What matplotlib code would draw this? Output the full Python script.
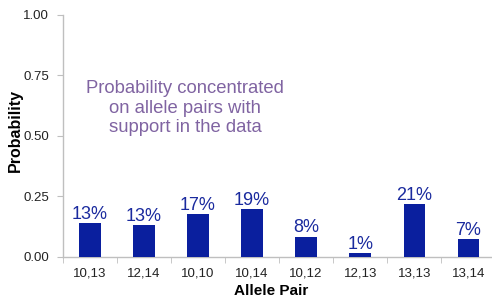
import matplotlib
matplotlib.use("Agg")
import matplotlib.pyplot as plt
import numpy as np

categories = ["10,13", "12,14", "10,10", "10,14", "10,12", "12,13", "13,13", "13,14"]
values = [0.138, 0.131, 0.175, 0.197, 0.083, 0.014, 0.217, 0.073]
labels = ["13%", "13%", "17%", "19%", "8%", "1%", "21%", "7%"]
yticks = [0.0, 0.25, 0.5, 0.75, 1.0]

plt.rcParams['font.family'] = ['Liberation Sans', 'DejaVu Sans']

fig = plt.figure(figsize=(4.92, 2.99), dpi=100)
ax = fig.add_axes([0.1274, 0.1415, 0.8797, 0.8085])

x = np.arange(len(categories))
ax.bar(x, values, width=0.4, color="#0A1F9E", zorder=3)
for xi, v, lab in zip(x, values, labels):
    ax.text(xi, v + 0.002, lab, ha="center", va="bottom", fontsize=13, color="#1A2A9E")

ax.set_xlim(-0.5, len(categories) - 0.5)
ax.set_ylim(0, 1.0)
ax.set_yticks(yticks)
ax.set_yticklabels([f"{t:.2f}" for t in yticks], fontsize=9.5, color="#222222")
ax.set_xticks(x)
ax.set_xticklabels(categories, fontsize=9.5, color="#222222")
ax.set_xticks(np.arange(-0.5, len(categories), 1.0), minor=True)
ax.tick_params(axis="x", which="major", length=0, pad=8)
ax.tick_params(axis="x", which="minor", length=4, color="#BFBFBF", direction="out")
ax.tick_params(axis="y", length=4, color="#BFBFBF", direction="out", pad=6)

for s in ["top", "right"]:
    ax.spines[s].set_visible(False)
for s in ["left", "bottom"]:
    ax.spines[s].set_color("#BFBFBF")
    ax.spines[s].set_linewidth(1.0)

ax.set_ylabel("Probability", fontsize=11.5, fontweight="bold")
ax.yaxis.set_label_coords(-0.092, 0.52)
ax.set_xlabel("Allele Pair", fontsize=11, fontweight="bold")
ax.xaxis.set_label_coords(0.482, -0.115)

ax.text(1.76, 0.615, "Probability concentrated\non allele pairs with\nsupport in the data",
        ha="center", va="center", fontsize=13.3, color="#8064A2", linespacing=1.2)

fig.savefig("out.png", dpi=100)
